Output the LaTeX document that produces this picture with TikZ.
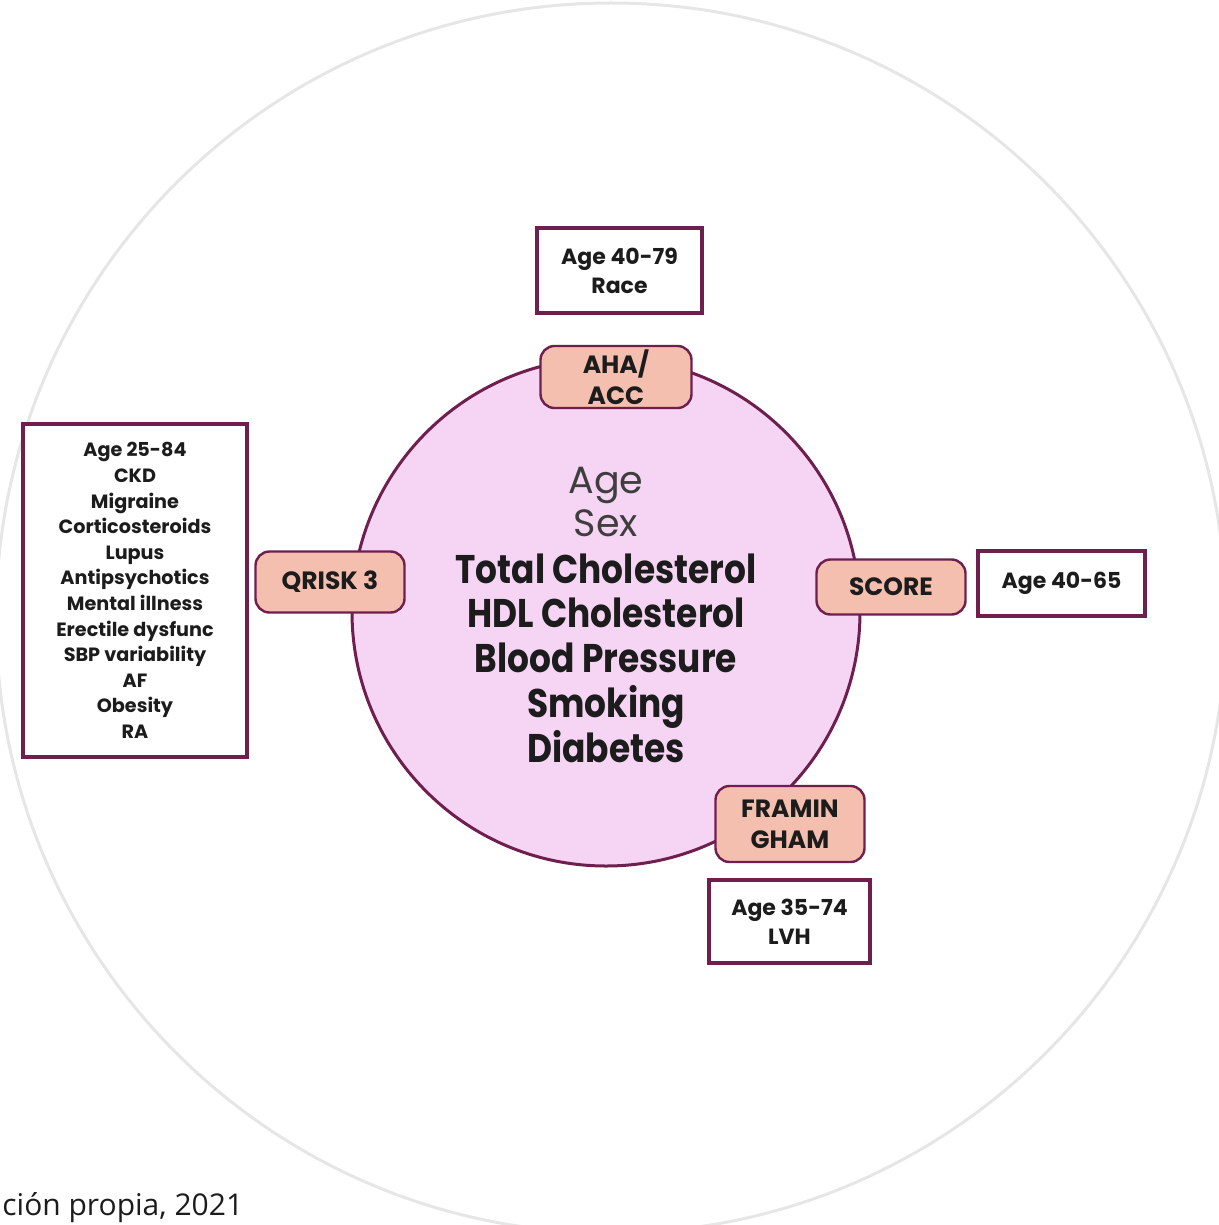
\documentclass[tikz,border=0pt]{standalone}
\usepackage{fontspec}
\setmainfont{Poppins}
\newfontfamily\corefont[FakeStretch=0.86]{Poppins}
\newfontfamily\notefont{Open Sans}
\definecolor{plum}{HTML}{6E1F4D}
\definecolor{salmon}{HTML}{F4BFAF}
\definecolor{blush}{HTML}{F6D4F4}
\definecolor{halo}{HTML}{E6E6E6}
\definecolor{ink}{HTML}{1C1C1C}
\tikzset{
  modelbox/.style={draw=plum, line width=1.2pt, fill=salmon, rounded corners=7pt,
    align=center, inner sep=0pt, text=ink, font=\bfseries\fontsize{12.5}{15.5}\selectfont},
  infobox/.style={draw=plum, line width=2pt, fill=white, align=center,
    inner sep=0pt, text=ink, font=\bfseries\fontsize{11}{14.5}\selectfont}
}
\begin{document}
\begin{tikzpicture}[x=0.5pt,y=-0.5pt]
  \useasboundingbox (0,0) rectangle (1219,1225);

  % faint outer ring
  \draw[halo, line width=1.5pt] (611,618) circle[radius=307.5pt];

  % central circle
  \draw[plum, fill=blush, line width=1.5pt] (606,612) circle[radius=127pt];

  % shared risk factors
  \node[text=ink!85, align=center, font=\fontsize{19}{21.5}\selectfont] (basic) at (606,502) {Age\\Sex};
  \node[text=ink, align=center, font=\corefont\bfseries\fontsize{20}{22.4}\selectfont] (core) at (606,658)
    {Total Cholesterol\\HDL Cholesterol\\Blood Pressure\\Smoking\\Diabetes};

  % models on the rim
  \node[modelbox, minimum width=75.5pt, minimum height=31pt] (aha) at (616,377) {AHA/\\ACC};
  \node[modelbox, minimum width=74.5pt, minimum height=30.5pt] (qrisk) at (330,582) {QRISK 3};
  \node[modelbox, minimum width=74.5pt, minimum height=27.5pt] (score) at (891,587) {SCORE};
  \node[modelbox, minimum width=74.5pt, minimum height=38pt] (fram) at (790,824) {FRAMIN\\GHAM};

  % extra variables of each model
  \node[infobox, minimum width=82.5pt, minimum height=42.5pt] (ahainfo) at (619.5,270.5) {Age 40-79\\Race};
  \node[infobox, minimum width=112pt, minimum height=166.5pt,
        font=\bfseries\fontsize{9.6}{12.8}\selectfont] (qriskinfo) at (135,590.5)
    {Age 25-84\\CKD\\Migraine\\Corticosteroids\\Lupus\\Antipsychotics\\Mental illness\\Erectile dysfunc\\SBP variability\\AF\\Obesity\\RA};
  \node[infobox, minimum width=83.5pt, minimum height=32.5pt] (scoreinfo) at (1061.5,583.5) {Age 40-65};
  \node[infobox, minimum width=80.5pt, minimum height=41.5pt] (framinfo) at (789.5,921.5) {Age 35-74\\LVH};

  % source line
  \node[anchor=base west, inner sep=0pt, font=\notefont\fontsize{15}{18}\selectfont, text=ink] (source) at (2,1215)
    {ción propia, 2021};
\end{tikzpicture}
\end{document}
